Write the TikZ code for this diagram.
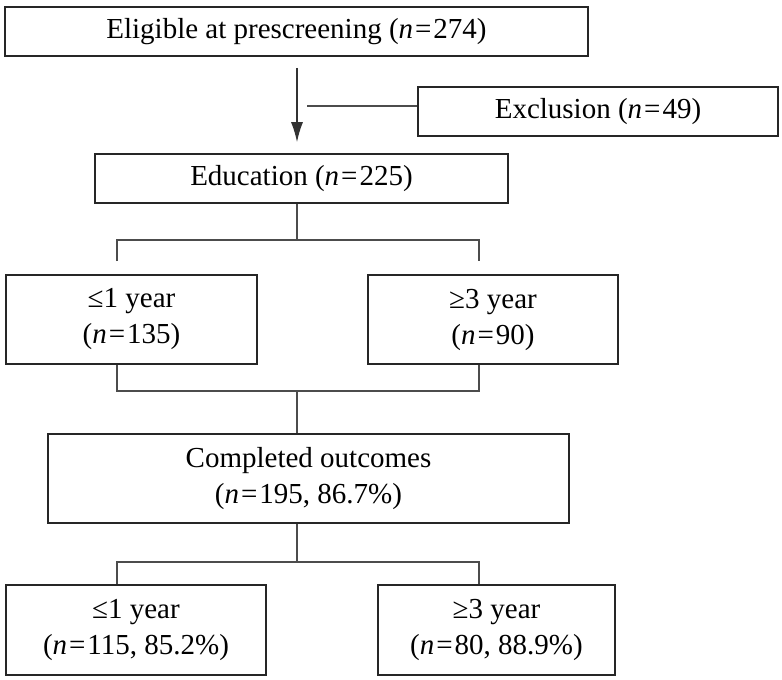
\documentclass[tikz,border=0pt]{standalone}
\usepackage{fontspec}
\setmainfont{Liberation Serif}
\usetikzlibrary{arrows.meta,calc}

\newcommand{\ncount}[1]{(\textit{n}\kern1pt=\kern1pt#1)}
\newcommand{\npct}[2]{(\textit{n}\kern1pt=\kern1pt#1, #2\%)}

\begin{document}
\begin{tikzpicture}[
  x=0.5pt, y=-0.5pt,
  font=\fontsize{14.5}{18}\selectfont,
  box/.style={draw=black!85, line width=0.8pt, align=center, inner sep=0pt, minimum height=24.5pt},
  tallbox/.style={box, minimum height=44.5pt},
  link/.style={draw=black!70, line width=0.7pt},
  arrow/.style={draw=black!80, line width=0.7pt, -{Latex[length=10pt,width=6pt]}}
]
\useasboundingbox (0,0) rectangle (782,680);

\node[box, minimum width=291.5pt] (elig) at (296.5,31.5) {Eligible at prescreening \ncount{274}};
\node[box, minimum width=180pt] (excl) at (598,111.5) {Exclusion \ncount{49}};
\node[box, minimum width=206.5pt] (edu) at (301.5,178.5) {Education \ncount{225}};
\node[tallbox, minimum width=125.5pt] (short) at (131.5,319.5) {\char"2264 1 year\\\ncount{135}};
\node[tallbox, minimum width=125pt] (long) at (493,319.5) {\char"2265 3 year\\\ncount{90}};
\node[tallbox, minimum width=260.5pt] (comp) at (308.5,478.5) {Completed outcomes\\\npct{195}{86.7}};
\node[tallbox, minimum width=130pt, minimum height=45pt] (shortdone) at (136,630) {\char"2264 1 year\\\npct{115}{85.2}};
\node[tallbox, minimum width=118.5pt, minimum height=45pt] (longdone) at (496.5,630) {\char"2265 3 year\\\npct{80}{88.9}};

% spine and branch points
\coordinate (spine) at (297,0);
\coordinate (exclend) at (307,106);
\coordinate (splitL) at (117,240);
\coordinate (splitR) at (479,240);
\coordinate (joinL) at (117,391);
\coordinate (joinR) at (479,391);
\coordinate (doneL) at (117,562);
\coordinate (doneR) at (479,562);

\draw[arrow] ([yshift=-5.5pt]elig.south -| spine) -- ([yshift=5.5pt]edu.north -| spine);
\draw[link] (exclend) -- (exclend -| excl.west);

\draw[link] (edu.south -| spine) -- (spine |- splitL);
\draw[link] ([yshift=6.5pt]short.north -| splitL) -- (splitL) -- (splitR) -- ([yshift=6.5pt]long.north -| splitR);

\draw[link] (short.south -| joinL) -- (joinL) -- (joinR) -- (long.south -| joinR);
\draw[link] (spine |- joinL) -- (comp.north -| spine);

\draw[link] (comp.south -| spine) -- (spine |- doneL);
\draw[link] (shortdone.north -| doneL) -- (doneL) -- (doneR) -- (longdone.north -| doneR);
\end{tikzpicture}
\end{document}
